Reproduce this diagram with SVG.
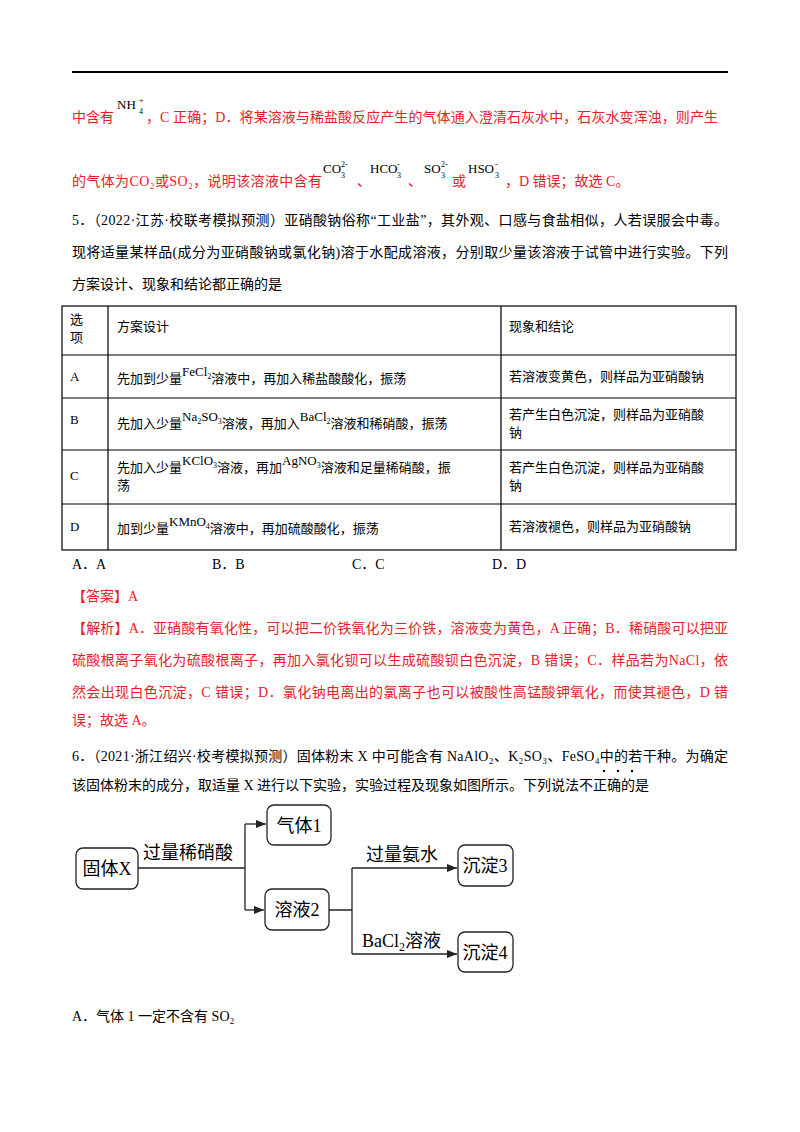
<svg xmlns="http://www.w3.org/2000/svg" width="800" height="1132" viewBox="0 0 800 1132">
<style>
text{font-family:"Liberation Serif","Noto Sans CJK SC",serif;font-size:14px;fill:#000}
.r{fill:#e8202a}
.f{font-size:13px;fill:#000}
.b{font-size:8px;fill:#000}
.c{font-size:13px}
.t{fill:none;stroke:#000;stroke-width:1.2}
.box{fill:#fff;stroke:#222;stroke-width:1.3}
.fl{font-size:18px}
.ln{fill:none;stroke:#222;stroke-width:1.3}
</style>
<defs><marker id="a" markerWidth="10" markerHeight="8" refX="10" refY="4" orient="auto" markerUnits="userSpaceOnUse"><path d="M0,0 L10,4 L0,8 Z" fill="#222"/></marker></defs>
<rect width="800" height="1132" fill="#fff"/>
<line x1="72" y1="72" x2="728" y2="72" stroke="#000" stroke-width="2"/>
<text x="72" y="122" class="r">中含有</text>
<text x="117" y="109" class="f">NH</text><text x="139" y="103" class="b">+</text><text x="139" y="114" class="b">4</text>
<text x="146" y="122" class="r" textLength="572">，C 正确；D．将某溶液与稀盐酸反应产生的气体通入澄清石灰水中，石灰水变浑浊，则产生</text>
<text x="72" y="186" class="r" textLength="250">的气体为CO₂或SO₂，说明该溶液中含有</text>
<text x="323" y="173" class="f">CO</text><text x="341" y="167" class="b">2-</text><text x="341" y="178" class="b">3</text>
<text x="357" y="186" class="r">、</text>
<text x="370" y="173" class="f">HCO</text><text x="397" y="167" class="b">-</text><text x="397" y="178" class="b">3</text>
<text x="408" y="186" class="r">、</text>
<text x="424" y="173" class="f">SO</text><text x="441" y="167" class="b">2-</text><text x="441" y="178" class="b">3</text>
<text x="452" y="186" class="r">或</text>
<text x="468" y="173" class="f">HSO</text><text x="495" y="167" class="b">-</text><text x="495" y="178" class="b">3</text>
<text x="505" y="186" class="r">，D 错误；故选 C。</text>
<text x="72" y="225" textLength="656">5．（2022·江苏·校联考模拟预测）亚硝酸钠俗称“工业盐”，其外观、口感与食盐相似，人若误服会中毒。</text>
<text x="72" y="257" textLength="656">现将适量某样品(成分为亚硝酸钠或氯化钠)溶于水配成溶液，分别取少量该溶液于试管中进行实验。下列</text>
<text x="72" y="289">方案设计、现象和结论都正确的是</text>
<g id="table">
<rect x="62" y="306" width="674" height="244" class="t"/>
<path d="M62 355H736M62 398H736M62 450H736M62 504H736M108 306V550M501 306V550" class="t"/>
<text x="70" y="324" class="c">选</text><text x="70" y="342" class="c">项</text>
<text x="117" y="331" class="c">方案设计</text>
<text x="509" y="331" class="c">现象和结论</text>
<text x="70" y="381" class="c">A</text><text x="70" y="424" class="c">B</text><text x="70" y="480" class="c">C</text><text x="70" y="531" class="c">D</text>
<text x="117" y="383" class="c">先加到少量<tspan dy="-7">FeCl</tspan><tspan class="b" dy="3">2</tspan><tspan dy="4">溶液中，再加入稀盐酸酸化，振荡</tspan></text>
<text x="509" y="381" class="c">若溶液变黄色，则样品为亚硝酸钠</text>
<text x="117" y="428" class="c">先加入少量<tspan dy="-7">Na</tspan><tspan class="b" dy="3">2</tspan><tspan dy="-3">SO</tspan><tspan class="b" dy="3">3</tspan><tspan dy="4">溶液，再加入</tspan><tspan dy="-7">BaCl</tspan><tspan class="b" dy="3">2</tspan><tspan dy="4">溶液和稀硝酸，振荡</tspan></text>
<text x="509" y="419" class="c">若产生白色沉淀，则样品为亚硝酸</text><text x="509" y="437" class="c">钠</text>
<text x="117" y="472" class="c">先加入少量<tspan dy="-7">KClO</tspan><tspan class="b" dy="3">3</tspan><tspan dy="4">溶液，再加</tspan><tspan dy="-7">AgNO</tspan><tspan class="b" dy="3">3</tspan><tspan dy="4">溶液和足量稀硝酸，振</tspan></text>
<text x="117" y="490" class="c">荡</text>
<text x="509" y="472" class="c">若产生白色沉淀，则样品为亚硝酸</text><text x="509" y="490" class="c">钠</text>
<text x="117" y="533" class="c">加到少量<tspan dy="-7">KMnO</tspan><tspan class="b" dy="3">4</tspan><tspan dy="4">溶液中，再加硫酸酸化，振荡</tspan></text>
<text x="509" y="531" class="c">若溶液褪色，则样品为亚硝酸钠</text>
</g>
<text x="72" y="569">A．A</text><text x="212" y="569">B．B</text><text x="352" y="569">C．C</text><text x="492" y="569">D．D</text>
<text x="72" y="601" class="r">【答案】A</text>
<text x="72" y="633" class="r" textLength="656">【解析】A．亚硝酸有氧化性，可以把二价铁氧化为三价铁，溶液变为黄色，A 正确；B．稀硝酸可以把亚</text>
<text x="72" y="665" class="r" textLength="656">硫酸根离子氧化为硫酸根离子，再加入氯化钡可以生成硫酸钡白色沉淀，B 错误；C．样品若为NaCl，依</text>
<text x="72" y="697" class="r" textLength="656">然会出现白色沉淀，C 错误；D．氯化钠电离出的氯离子也可以被酸性高锰酸钾氧化，而使其褪色，D 错</text>
<text x="72" y="725" class="r">误；故选 A。</text>
<text x="72" y="761" textLength="656">6．（2021·浙江绍兴·校考模拟预测）固体粉末 X 中可能含有 NaAlO₂、K₂SO₃、FeSO₄中的若干种。为确定</text>
<text x="72" y="790">该固体粉末的成分，取适量 X 进行以下实验，实验过程及现象如图所示。下列说法不正确的是</text>
<circle cx="604" cy="771" r="1.2"/><circle cx="618" cy="771" r="1.2"/><circle cx="632" cy="771" r="1.2"/>
<g id="connectors">
<path d="M138 868H245M245 824V910" class="ln"/>
<path d="M245 824H266" class="ln" marker-end="url(#a)"/>
<path d="M245 910H264" class="ln" marker-end="url(#a)"/>
<path d="M329 910H352M352 868V954" class="ln"/>
<path d="M352 868H457" class="ln" marker-end="url(#a)"/>
<path d="M352 954H457" class="ln" marker-end="url(#a)"/>
<text x="143" y="859" class="fl">过量稀硝酸</text>
<text x="366" y="861" class="fl">过量氨水</text>
<text x="362" y="947" class="fl">BaCl<tspan font-size="12" dy="4">2</tspan><tspan dy="-4">溶液</tspan></text>
</g>
<g id="n1"><rect x="76" y="848" width="62" height="41" rx="7" class="box"/><text x="107" y="875" class="fl" text-anchor="middle">固体X</text></g>
<g id="n2"><rect x="267" y="805" width="64" height="40" rx="7" class="box"/><text x="299" y="832" class="fl" text-anchor="middle">气体1</text></g>
<g id="n3"><rect x="265" y="889" width="64" height="41" rx="7" class="box"/><text x="297" y="916" class="fl" text-anchor="middle">溶液2</text></g>
<g id="n4"><rect x="458" y="845" width="55" height="41" rx="7" class="box"/><text x="485" y="872" class="fl" text-anchor="middle">沉淀3</text></g>
<g id="n5"><rect x="458" y="932" width="55" height="40" rx="7" class="box"/><text x="485" y="959" class="fl" text-anchor="middle">沉淀4</text></g>
<text x="72" y="1021">A．气体 1 一定不含有 SO₂</text>
</svg>
